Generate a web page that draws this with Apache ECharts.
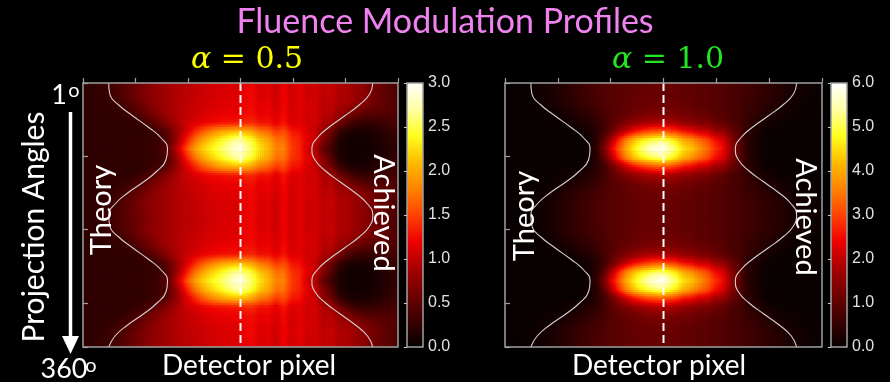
<!DOCTYPE html>
<html>
<head>
<meta charset="utf-8">
<script src="https://cdn.jsdelivr.net/npm/echarts@6/dist/echarts.min.js"></script>
<style>
  html, body { margin: 0; padding: 0; background: #000; }
  #chart { width: 890px; height: 382px; }
</style>
</head>
<body>
<div id="chart"></div>
<script>
// 两幅通量调制热图：左 alpha=0.5，右 alpha=1.0
// 行 = 投影角（每 12° 一行，共 30 行），列 = 探测器像素（每 15 像素一列，共 40 列）
// 图像按 180° 周期重复，所以每行取用一条按“离峰值行距离”读出的剖面
const rowBand = [7, 6, 5, 4, 3, 2, 1, 0, 1, 2, 3, 4, 5, 6, 7,
                 7, 6, 5, 4, 3, 2, 1, 0, 1, 2, 3, 4, 5, 6, 7];
const pixelCenters = Array.from({ length: 40 }, (_, i) => 7.5 + 15 * i);
const angleCenters = Array.from({ length: 30 }, (_, i) => 6 + 12 * i);

// alpha = 0.5：前 20 个为 Theory 半边，后 20 个为 Achieved 半边
const profilesA05 = [
  [0.24,0.24,0.24,0.24,0.24,0.25,0.25,0.26,0.28,0.32,0.45,0.8,1.25,1.7,2.05,2.25,2.4,2.55,2.72,2.9,
   2.75,2.55,2.27,2.1,1.8,1.8,1.46,1.36,1.07,0.95,0.51,0.34,0.13,0.1,0.06,0.07,0.08,0.12,0.18,0.22],
  [0.24,0.24,0.24,0.24,0.24,0.24,0.25,0.25,0.27,0.3,0.4,0.68,1.05,1.45,1.8,2.05,2.22,2.38,2.55,2.7,
   2.6,2.42,2.15,2.0,1.72,1.72,1.42,1.36,1.15,1.05,0.72,0.45,0.16,0.1,0.07,0.08,0.1,0.15,0.2,0.25],
  [0.24,0.24,0.24,0.24,0.24,0.24,0.24,0.25,0.28,0.35,0.45,0.7,0.95,1.2,1.45,1.65,1.82,1.95,2.03,2.08,
   2.05,1.95,1.75,1.68,1.45,1.55,1.3,1.27,1.1,1.05,0.8,0.6,0.3,0.18,0.12,0.12,0.14,0.18,0.24,0.3],
  [0.24,0.24,0.24,0.24,0.24,0.24,0.27,0.32,0.42,0.55,0.7,0.85,0.98,1.08,1.15,1.2,1.24,1.27,1.29,1.3,
   1.35,1.38,1.27,1.29,1.15,1.3,1.11,1.16,1.07,1.1,0.94,0.9,0.62,0.45,0.32,0.28,0.27,0.3,0.34,0.36],
  [0.24,0.24,0.24,0.24,0.26,0.3,0.38,0.48,0.6,0.72,0.82,0.9,0.97,1.03,1.08,1.12,1.15,1.17,1.18,1.19,
   1.25,1.27,1.17,1.22,1.1,1.25,1.08,1.16,1.07,1.1,0.96,0.99,0.82,0.72,0.58,0.5,0.46,0.45,0.45,0.42],
  [0.24,0.24,0.24,0.27,0.32,0.4,0.5,0.6,0.7,0.78,0.86,0.92,0.97,1.02,1.06,1.09,1.11,1.13,1.14,1.15,
   1.2,1.25,1.15,1.19,1.07,1.23,1.06,1.16,1.09,1.1,0.98,1.02,0.89,0.88,0.78,0.71,0.62,0.56,0.5,0.45],
  [0.24,0.24,0.27,0.32,0.4,0.48,0.57,0.66,0.74,0.8,0.86,0.91,0.96,1.0,1.04,1.07,1.09,1.11,1.12,1.13,
   1.18,1.25,1.12,1.16,1.05,1.23,1.06,1.18,1.05,1.1,1.01,1.04,0.92,0.93,0.82,0.76,0.66,0.58,0.5,0.42],
  [0.24,0.25,0.28,0.33,0.4,0.48,0.56,0.65,0.73,0.8,0.86,0.91,0.95,0.99,1.03,1.06,1.08,1.1,1.11,1.12,
   1.17,1.24,1.11,1.15,1.04,1.22,1.05,1.17,1.05,1.09,1.0,1.03,0.92,0.92,0.82,0.76,0.66,0.58,0.5,0.42],
];

// alpha = 1.0
const profilesA10 = [
  [0.05,0.05,0.05,0.05,0.05,0.05,0.05,0.05,0.05,0.06,0.15,0.5,1.3,2.4,3.3,4.2,4.8,5.3,5.7,5.95,
   5.6,5.15,4.55,4.35,3.85,3.4,2.85,2.5,1.65,1.0,0.42,0.24,0.1,0.06,0.05,0.05,0.05,0.05,0.05,0.05],
  [0.05,0.05,0.05,0.05,0.05,0.05,0.05,0.05,0.05,0.05,0.13,0.4,1.0,1.95,2.9,3.75,4.35,4.75,5.0,5.2,
   5.0,4.6,4.1,3.8,3.4,3.1,2.55,2.25,1.5,0.98,0.46,0.27,0.1,0.06,0.05,0.05,0.05,0.05,0.05,0.05],
  [0.05,0.05,0.05,0.05,0.05,0.05,0.05,0.05,0.05,0.1,0.2,0.38,0.68,1.15,1.7,2.2,2.6,2.9,3.1,3.2,
   3.1,2.9,2.6,2.45,2.15,2.1,1.7,1.6,1.15,0.9,0.47,0.32,0.13,0.08,0.05,0.05,0.05,0.05,0.05,0.05],
  [0.05,0.05,0.05,0.05,0.05,0.05,0.08,0.12,0.18,0.25,0.35,0.5,0.7,0.95,1.2,1.4,1.58,1.7,1.8,1.85,
   1.8,1.74,1.57,1.54,1.36,1.36,1.12,1.05,0.82,0.75,0.52,0.43,0.23,0.17,0.1,0.07,0.05,0.05,0.05,0.05],
  [0.05,0.05,0.05,0.05,0.06,0.1,0.15,0.22,0.3,0.4,0.5,0.62,0.75,0.88,1.0,1.1,1.2,1.27,1.32,1.35,
   1.33,1.33,1.22,1.23,1.09,1.1,0.95,0.94,0.78,0.74,0.57,0.53,0.36,0.3,0.2,0.15,0.1,0.08,0.06,0.05],
  [0.05,0.05,0.05,0.08,0.12,0.18,0.25,0.33,0.42,0.52,0.62,0.72,0.82,0.9,0.98,1.05,1.1,1.14,1.17,1.19,
   1.18,1.19,1.1,1.11,0.99,1.01,0.87,0.88,0.75,0.74,0.6,0.57,0.43,0.38,0.28,0.21,0.14,0.1,0.07,0.05],
  [0.03,0.04,0.06,0.1,0.15,0.21,0.3,0.4,0.5,0.6,0.7,0.78,0.86,0.93,0.98,1.02,1.06,1.09,1.11,1.12,
   1.1,1.11,1.03,1.05,0.95,0.99,0.87,0.9,0.78,0.77,0.66,0.63,0.5,0.46,0.36,0.29,0.2,0.15,0.1,0.07],
  [0.03,0.03,0.05,0.1,0.15,0.2,0.3,0.4,0.5,0.6,0.7,0.78,0.86,0.93,0.98,1.02,1.06,1.09,1.11,1.12,
   1.1,1.1,1.03,1.04,0.95,0.98,0.87,0.89,0.78,0.76,0.66,0.62,0.5,0.45,0.36,0.28,0.2,0.15,0.1,0.07],
];

// 白色曲线（像素 0..600，角度 0..360）
const curveAngles = [0,15,30,45,60,75,90,105,120,135,150,165,180,195,210,225,240,255,270,285,300,315,330,345,360];
const theoryX   = [49,51,68,95,124,149,161,158,141,115,85,61,49,51,68,95,124,149,161,158,141,115,85,61,49];
const achievedX = [552,546,526,498,469,446,436,442,462,490,519,542,552,546,526,498,469,446,436,442,462,490,519,542,552];
const centerLineX = [300, 300];
const centerLineY = [0, 360];

const colorbarTicks = { a05: [0, 3, 0.5], a10: [0, 6, 1] };

// 类似 MATLAB hot 的色表
const HOT = ['#050000','#3a0000','#700000','#a80000','#ee0000','#ff4200',
             '#ff8300','#ffbc00','#ffff1d','#ffffa5','#ffffff'];
const HOT_RGB = HOT.map(h => [1, 3, 5].map(k => parseInt(h.slice(k, k + 2), 16)));
const hot = (t) => {
  t = Math.max(0, Math.min(1, t)) * (HOT_RGB.length - 1);
  const i = Math.min(Math.floor(t), HOT_RGB.length - 2), f = t - i;
  const a = HOT_RGB[i], b = HOT_RGB[i + 1];
  return 'rgb(' + a.map((v, k) => Math.round(v + (b[k] - v) * f)).join(',') + ')';
};

// 渲染时做双线性着色（相当于 shading interp），数据本身不变
const sampleField = (field, fx, fy) => {
  const nR = field.length, nC = field[0].length;
  fx = Math.max(0, Math.min(nC - 1, fx));
  fy = Math.max(0, Math.min(nR - 1, fy));
  const x0 = Math.min(Math.floor(fx), nC - 2), y0 = Math.min(Math.floor(fy), nR - 2);
  const tx = fx - x0, ty = fy - y0;
  const top = field[y0][x0] * (1 - tx) + field[y0][x0 + 1] * tx;
  const bot = field[y0 + 1][x0] * (1 - tx) + field[y0 + 1][x0 + 1] * tx;
  return top * (1 - ty) + bot * ty;
};

const SUB = 4;
const fieldRenderer = (field, max) => (params, api) => {
  const xc = api.value(0), yc = api.value(1), c = api.value(3), r = api.value(4);
  const children = [];
  for (let j = 0; j < SUB; j++) {
    for (let i = 0; i < SUB; i++) {
      const p = api.coord([xc - 7.5 + 15 * i / SUB, yc - 6 + 12 * j / SUB]);
      const q = api.coord([xc - 7.5 + 15 * (i + 1) / SUB, yc - 6 + 12 * (j + 1) / SUB]);
      const v = sampleField(field, c - 0.5 + (i + 0.5) / SUB, r - 0.5 + (j + 0.5) / SUB);
      children.push({
        type: 'rect', silent: true,
        shape: { x: Math.min(p[0], q[0]), y: Math.min(p[1], q[1]),
                 width: Math.abs(q[0] - p[0]) + 0.6, height: Math.abs(q[1] - p[1]) + 0.6 },
        style: { fill: hot(v / max) },
      });
    }
  }
  return { type: 'group', children };
};

const zip = (xs, ys) => xs.map((x, i) => [x, ys[i]]);

const FRAME = '#a0a0a0';
const panels = [
  { plot: { left: 83, width: 315 }, bar: { left: 407 }, profiles: profilesA05, ticks: colorbarTicks.a05 },
  { plot: { left: 505, width: 317 }, bar: { left: 831 }, profiles: profilesA10, ticks: colorbarTicks.a10 },
];

const grid = [], xAxis = [], yAxis = [], series = [], visualMap = [];
panels.forEach((p) => {
  const g0 = grid.length;
  grid.push({ left: p.plot.left, top: 83, width: p.plot.width, height: 264, show: true,
              borderColor: FRAME, borderWidth: 1.5, backgroundColor: 'transparent', z: 10 });
  grid.push({ left: p.bar.left, top: 83, width: 16, height: 264, show: true,
              borderColor: FRAME, borderWidth: 1.5, backgroundColor: 'transparent', z: 10 });

  xAxis.push({ type: 'value', gridIndex: g0, min: 0, max: 600, interval: 100, z: 10,
               axisLine: { show: false }, axisLabel: { show: false }, splitLine: { show: false },
               axisTick: { inside: true, length: 5, lineStyle: { color: FRAME, width: 1.2 } } });
  yAxis.push({ type: 'value', gridIndex: g0, min: 0, max: 360, interval: 100, inverse: true, z: 10,
               axisLine: { show: false }, axisLabel: { show: false }, splitLine: { show: false },
               axisTick: { inside: true, length: 5, lineStyle: { color: FRAME, width: 1.2 } } });
  // 色标的刻度
  xAxis.push({ type: 'value', gridIndex: g0 + 1, show: false, min: 0, max: 1 });
  yAxis.push({ type: 'value', gridIndex: g0 + 1, position: 'right', min: p.ticks[0], max: p.ticks[1],
               interval: p.ticks[2], z: 10, axisLine: { show: false }, splitLine: { show: false },
               axisTick: { inside: true, length: 3, lineStyle: { color: '#c8c8c8' } },
               axisLabel: { color: '#e0e0e0', fontSize: 16, fontFamily: 'Liberation Sans', margin: 5,
                            formatter: (v) => v.toFixed(1) } });

  const field = rowBand.map(b => p.profiles[b]);
  const data = [];
  field.forEach((row, r) => row.forEach((v, c) => data.push([pixelCenters[c], angleCenters[r], v, c, r])));

  const fieldIndex = series.length;
  series.push({ type: 'custom', xAxisIndex: g0, yAxisIndex: g0, data, z: 2, clip: true,
                encode: { x: 0, y: 1 }, renderItem: fieldRenderer(field, p.ticks[1]) });
  const line = (xs, ys, style) => ({
    type: 'line', xAxisIndex: g0, yAxisIndex: g0, data: zip(xs, ys),
    showSymbol: false, z: 6, lineStyle: style,
  });
  series.push(Object.assign(line(theoryX, curveAngles, { color: '#d0d0d0', width: 1.1 }), { smooth: true }));
  series.push(Object.assign(line(achievedX, curveAngles, { color: '#d0d0d0', width: 1.1 }), { smooth: true }));
  series.push(line(centerLineX, centerLineY, { color: '#ffffff', width: 2, type: [8, 4] }));

  visualMap.push({
    type: 'continuous', seriesIndex: fieldIndex, dimension: 2, min: p.ticks[0], max: p.ticks[1],
    calculable: false, hoverLink: false, orient: 'vertical', left: p.bar.left, top: 83,
    itemWidth: 16, itemHeight: 264, padding: 0, inRange: { color: HOT },
  });
});

const txt = (x, y, text, font, fill, extra) => ({
  type: 'text', x, y, z: 20, ...(extra || {}),
  style: { text, font, fill, align: 'center', verticalAlign: 'middle' },
});
const LABEL = 'Lato, "Noto Sans", sans-serif';
const alpha = (x, text, fill) => ({
  type: 'text', x, y: 60, z: 20,
  style: { text, fill, font: '30px "DejaVu Serif"', align: 'center', verticalAlign: 'middle',
           rich: { a: { font: 'italic 30px "DejaVu Serif"', fill } } },
});

const graphic = [
  txt(445, 22, 'Fluence Modulation Profiles', '34px ' + LABEL, '#f082f0'),
  alpha(247, '{a|α} = 0.5', '#ffff00'),
  alpha(668, '{a|α} = 1.0', '#22e622'),
  txt(59, 95, '1', '27px ' + LABEL, '#ffffff'),
  txt(74, 91, 'o', '20px ' + LABEL, '#ffffff'),
  txt(64, 369, '360', '27px ' + LABEL, '#ffffff'),
  txt(91, 366, 'o', '20px ' + LABEL, '#ffffff'),
  txt(34, 227, 'Projection Angles', '30px ' + LABEL, '#ffffff', { rotation: Math.PI / 2 }),
  txt(102, 210, 'Theory', '29px ' + LABEL, '#ffffff', { rotation: Math.PI / 2 }),
  txt(383, 213, 'Achieved', '29px ' + LABEL, '#ffffff', { rotation: -Math.PI / 2 }),
  txt(525, 216, 'Theory', '29px ' + LABEL, '#ffffff', { rotation: Math.PI / 2 }),
  txt(805, 217, 'Achieved', '29px ' + LABEL, '#ffffff', { rotation: -Math.PI / 2 }),
  txt(249, 366, 'Detector pixel', '28px ' + LABEL, '#ffffff'),
  txt(659, 366, 'Detector pixel', '28px ' + LABEL, '#ffffff'),
  { type: 'line', z: 20, shape: { x1: 70.5, y1: 112, x2: 70.5, y2: 340 },
    style: { stroke: '#ffffff', lineWidth: 3.5 } },
  { type: 'polygon', z: 20, shape: { points: [[62, 336], [79, 336], [70.5, 354]] },
    style: { fill: '#ffffff' } },
];

const chart = echarts.init(document.getElementById('chart'));
chart.setOption({
  backgroundColor: '#000',
  animation: false,
  grid, xAxis, yAxis, series, visualMap, graphic,
});
</script>
</body>
</html>
